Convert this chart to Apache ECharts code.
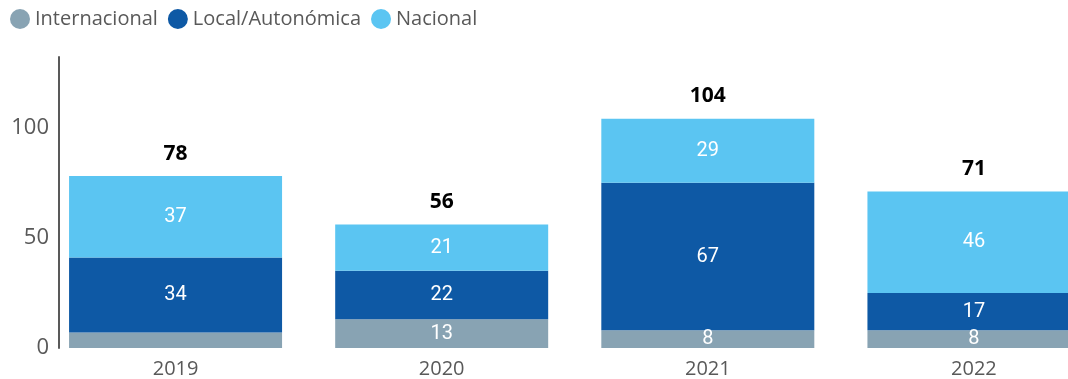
<!DOCTYPE html>
<html>
<head>
<meta charset="utf-8">
<script src="https://cdn.jsdelivr.net/npm/echarts@6/dist/echarts.min.js"></script>
<style>
  html, body { margin: 0; padding: 0; background: #ffffff; overflow: hidden; }
  #chart { width: 1107px; height: 379px; }
</style>
</head>
<body>
<div id="chart"></div>
<script>
// Years on the category axis
var years = ['2019', '2020', '2021', '2022'];

// Stacked components per year
var internacional = [7, 13, 8, 8];
var localAutonomica = [34, 22, 67, 17];
var nacional = [37, 21, 29, 46];

// Totals shown above each stack
var totals = [78, 56, 104, 71];

// Y axis range
var yMin = 0;
var yMax = 132;
var yStep = 50;

var seriesNames = ['Internacional', 'Local/Autonómica', 'Nacional'];
var seriesColors = ['#88A3B3', '#0E59A5', '#5BC5F2'];

var chart = echarts.init(document.getElementById('chart'), null, { renderer: 'canvas' });

var segmentLabel = {
  show: true,
  position: 'inside',
  color: '#ffffff',
  fontFamily: 'Roboto',
  fontSize: 20
};

function stackSeries(name, values, color, hideSmall) {
  return {
    name: name,
    type: 'bar',
    stack: 'total',
    barWidth: 213,
    itemStyle: { color: color },
    label: segmentLabel,
    data: values.map(function (v) {
      if (hideSmall && v < 8) {
        return { value: v, label: { show: false } };
      }
      return v;
    })
  };
}

var option = {
  animation: false,
  textStyle: { fontFamily: 'Open Sans' },
  legend: {
    data: seriesNames,
    left: 5,
    top: 4,
    icon: 'circle',
    itemWidth: 20,
    itemHeight: 20,
    itemGap: 10,
    textStyle: { color: '#595959', fontSize: 20, fontFamily: 'Open Sans' }
  },
  grid: {
    left: 42.5,
    right: 0,
    top: 57,
    bottom: 31,
    containLabel: false
  },
  xAxis: {
    type: 'category',
    data: years,
    axisLine: { show: false },
    axisTick: { show: false },
    axisLabel: { color: '#595959', fontSize: 20, margin: 11, fontFamily: 'Open Sans' }
  },
  yAxis: {
    type: 'value',
    min: yMin,
    max: yMax,
    interval: yStep,
    offset: -16.5,
    axisLine: { show: true, lineStyle: { color: '#595959', width: 2 } },
    axisTick: { show: false },
    splitLine: { show: false },
    axisLabel: { color: '#595959', fontSize: 22, margin: 10, showMaxLabel: false, fontFamily: 'Open Sans' }
  },
  series: [
    stackSeries(seriesNames[0], internacional, seriesColors[0], true),
    stackSeries(seriesNames[1], localAutonomica, seriesColors[1], false),
    stackSeries(seriesNames[2], nacional, seriesColors[2], false),
    {
      name: 'Total',
      type: 'line',
      data: totals,
      symbol: 'circle',
      symbolSize: 0,
      showSymbol: true,
      lineStyle: { width: 0, opacity: 0 },
      itemStyle: { color: 'rgba(0,0,0,0)' },
      silent: true,
      z: 10,
      label: {
        show: true,
        position: 'top',
        distance: 12,
        color: '#000000',
        fontWeight: 'bold',
        fontSize: 21,
        fontFamily: 'Open Sans'
      }
    }
  ]
};

chart.setOption(option);
</script>
</body>
</html>
